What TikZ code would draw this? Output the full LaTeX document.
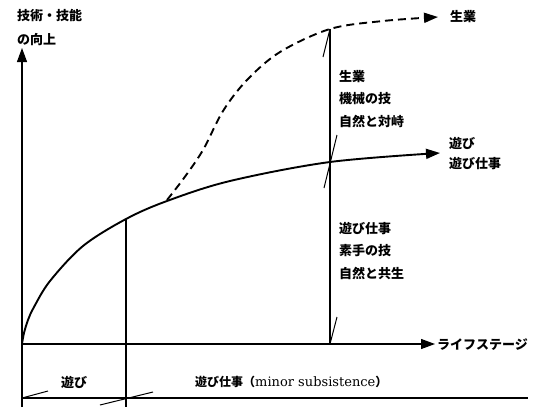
\documentclass[tikz,border=0pt]{standalone}
\usepackage{fontspec}
\setmainfont{Noto Sans CJK JP}
\newfontfamily\latinserif{DejaVu Serif}
\usetikzlibrary{arrows.meta,calc}
\begin{document}
\begin{tikzpicture}[x=1pt,y=-1pt,
  ln/.style={line width=1.1pt},
  crv/.style={line width=1.9pt},
  tip/.style={-{Triangle[length=14pt,width=10pt]}},
  lbl/.style={font=\fontsize{13}{13}\selectfont\bfseries, inner sep=0pt, anchor=west},
  tickmark/.style={line width=1pt}]
\useasboundingbox (0,0) rectangle (545,407);
% key points
\coordinate (O) at (22,344);
\coordinate (Ytop) at (22,48);
\coordinate (Ybot) at (22,407);
\coordinate (Xend) at (435,344);
\coordinate (P1) at (126,219);
\coordinate (P1b) at (126,407);
\coordinate (P1m) at (126,398);
\coordinate (P2) at (330,162);
\coordinate (P2t) at (330,29);
\coordinate (P2b) at (330,344);
\coordinate (Bl) at (22,398);
\coordinate (Br) at (528,398);
% axes
\draw[ln,tip] (Ybot) -- (Ytop);
\draw[ln,tip] (O) -- (Xend);
\draw[ln] (Bl) -- (Br);
\draw[ln] (P1) -- (P1b);
\draw[ln] (P2b) -- (P2t);
% solid curve
\draw[crv,tip] plot[smooth,tension=0.55] coordinates {(22,344) (24,333) (28,320) (34,307) (50,281) (83,246) (126,219) (167,201) (230,181) (330,162) (440,153)};
% dashed curve
\draw[crv,dash pattern=on 8pt off 5pt,tip] plot[smooth,tension=0.55] coordinates {(167,200) (184,178) (203,150) (223,111) (247,80) (280,52) (330,29) (383,21) (438,17)};
% tick marks
\draw[tickmark] (P2t) -- ++(-7,28);
\draw[tickmark] ($(P2)+(7,-27)$) -- ($(P2)+(-6,26)$);
\draw[tickmark] (P2b) -- ++(7,-27);
\draw[tickmark] (Bl) -- ++(26,-7);
\draw[tickmark] ($(P1m)+(-26,7)$) -- ($(P1m)+(27,-6)$);
% labels
\node[lbl] (ya) at (17,16) {技術・技能};
\node[lbl] (yb) at (17,40) {の向上};
\node[lbl] (s1) at (450,17) {生業};
\node[lbl] (a1) at (449,143) {遊び};
\node[lbl] (a2) at (449,164) {遊び仕事};
\node[lbl] (xl) at (437,345) {ライフステージ};
\node[lbl] (t1) at (339,77) {生業};
\node[lbl] (t2) at (339,99) {機械の技};
\node[lbl] (t3) at (339,121) {自然と対峙};
\node[lbl] (b1) at (339,229) {遊び仕事};
\node[lbl] (b2) at (339,251) {素手の技};
\node[lbl] (b3) at (339,273) {自然と共生};
\node[lbl,anchor=center] (l1) at (74,382) {遊び};
\node[lbl,font=\fontsize{12}{12}\selectfont\bfseries] (l2) at (195,382) {遊び仕事（{\latinserif\mdseries\fontsize{13}{13}\selectfont minor subsistence}）};
\end{tikzpicture}
\end{document}
